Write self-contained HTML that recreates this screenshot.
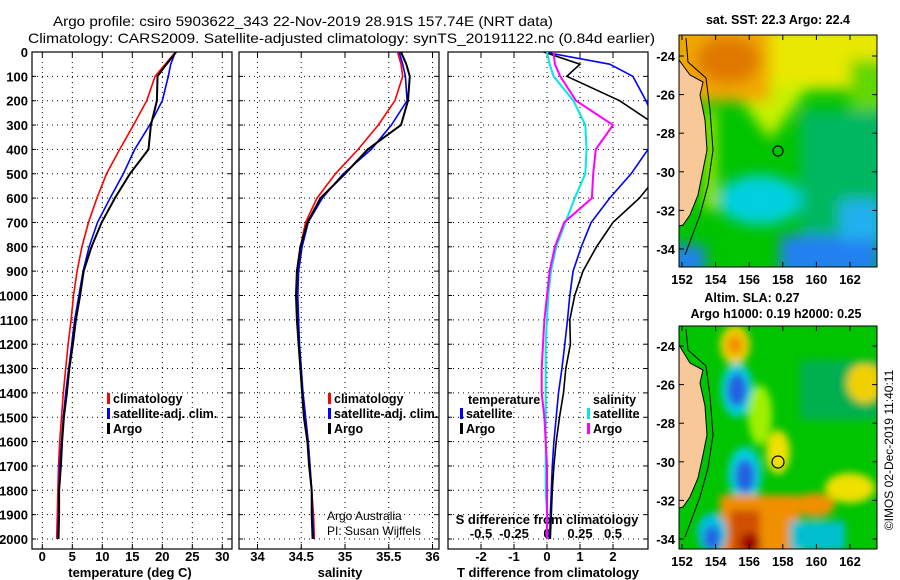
<!DOCTYPE html>
<html><head><meta charset="utf-8"><style>
body{margin:0;background:#fff}
svg{display:block;font-family:"Liberation Sans",sans-serif}
.b{font-weight:bold;font-size:13px}
.l{font-weight:bold;font-size:12.5px}
</style></head><body>
<svg id="s" width="900" height="580" viewBox="0 0 900 580">
<defs>
<filter id="bl" x="-20%" y="-20%" width="140%" height="140%"><feGaussianBlur stdDeviation="7"/></filter>
<filter id="bl2" x="-20%" y="-20%" width="140%" height="140%"><feGaussianBlur stdDeviation="4"/></filter>
<clipPath id="c1"><rect x="32" y="52" width="200" height="497"/></clipPath>
<clipPath id="c2"><rect x="239" y="52" width="200" height="497"/></clipPath>
<clipPath id="c3"><rect x="448" y="52" width="200" height="497"/></clipPath>
<clipPath id="m1"><rect x="679" y="35" width="198" height="232"/></clipPath>
<clipPath id="m2"><rect x="679" y="326" width="198" height="223"/></clipPath>
</defs>
<text x="53" y="26" font-size="14" textLength="500" lengthAdjust="spacingAndGlyphs">Argo profile: csiro 5903622_343 22-Nov-2019 28.91S 157.74E (NRT data)</text>
<text x="28" y="43" font-size="14" textLength="627" lengthAdjust="spacingAndGlyphs">Climatology: CARS2009. Satellite-adjusted climatology: synTS_20191122.nc (0.84d earlier)</text>
<g id="p1"></g>
<g id="p2"></g>
<g id="p3"></g>

<!-- SST map -->
<g>
<text x="778" y="24" text-anchor="middle" class="l">sat. SST: 22.3 Argo: 22.4</text>
<g clip-path="url(#m1)">
<rect x="679" y="35" width="198" height="232" fill="#00c400"/>
<g filter="url(#bl)">
<rect x="800" y="110" width="90" height="130" fill="#00b860"/>
<rect x="740" y="25" width="150" height="65" fill="#e8e800"/>
<rect x="850" y="60" width="40" height="50" fill="#60d800"/>
<path d="M730 85 L810 85 L770 140 Z" fill="#c8f000"/>
<rect x="670" y="20" width="100" height="82" fill="#f0a800"/>
<ellipse cx="728" cy="60" rx="32" ry="24" fill="#e07800"/>
<ellipse cx="760" cy="200" rx="42" ry="25" fill="#00d0e0"/>
<rect x="780" y="235" width="100" height="40" fill="#2080f0"/>
<rect x="840" y="200" width="40" height="40" fill="#20b0f0"/>
<rect x="670" y="245" width="35" height="30" fill="#2080f0"/>
<rect x="705" y="110" width="10" height="100" fill="#d0f000"/>
</g>
</g>
<path d="M679 60 L690 75 L703 82 L700 95 L705 120 L707 150 L703 170 L698 195 L690 215 L683 225 L679 226 Z" fill="#f8c898" stroke="#000" stroke-width="1"/>
<path d="M686 38 L688 62 L706 78 L710 110 L713 150 L708 185 L700 215 L685 255" fill="none" stroke="#000" stroke-width="1"/>
<circle cx="778" cy="151" r="5" fill="none" stroke="#000" stroke-width="1.2"/>
<rect x="679" y="35" width="198" height="232" fill="none" stroke="#000" stroke-width="1"/>
</g>

<!-- SLA map -->
<g>
<text x="752" y="302" text-anchor="middle" class="l">Altim. SLA: 0.27</text>
<text x="776" y="318" text-anchor="middle" class="l">Argo h1000: 0.19 h2000: 0.25</text>
<g clip-path="url(#m2)">
<rect x="679" y="326" width="198" height="223" fill="#00c400"/>
<g filter="url(#bl2)">
<rect x="800" y="360" width="80" height="60" fill="#00b050"/>
<ellipse cx="735" cy="345" rx="15" ry="20" fill="#f0d000"/>
<ellipse cx="735" cy="345" rx="8" ry="10" fill="#f09000"/>
<ellipse cx="737" cy="390" rx="16" ry="27" fill="#00d0e0"/>
<ellipse cx="737" cy="390" rx="10" ry="17" fill="#2060e0"/>
<ellipse cx="745" cy="474" rx="17" ry="27" fill="#00d0e0"/>
<ellipse cx="745" cy="476" rx="10" ry="17" fill="#2060e0"/>
<ellipse cx="778" cy="452" rx="12" ry="22" fill="#f0e000"/>
<rect x="720" y="495" width="80" height="60" fill="#f09000"/>
<rect x="730" y="510" width="30" height="45" fill="#d05000"/>
<ellipse cx="750" cy="543" rx="10" ry="10" fill="#a00000"/>
<ellipse cx="712" cy="533" rx="15" ry="20" fill="#00c0e0"/>
<ellipse cx="712" cy="538" rx="8" ry="12" fill="#2060e0"/>
<rect x="790" y="521" width="55" height="30" fill="#00c0d0"/>
<ellipse cx="815" cy="505" rx="20" ry="12" fill="#f09000"/>
<ellipse cx="850" cy="488" rx="25" ry="15" fill="#f0e000"/>
<ellipse cx="865" cy="383" rx="18" ry="20" fill="#f0d000"/>
<ellipse cx="760" cy="415" rx="12" ry="30" fill="#a0f000"/>
</g>
</g>
<path d="M679 345 L690 363 L703 370 L700 383 L705 406 L707 435 L703 455 L698 478 L690 497 L683 507 L679 508 Z" fill="#f8c898" stroke="#000" stroke-width="1"/>
<path d="M686 329 L688 350 L706 366 L710 396 L713 435 L708 468 L700 497 L685 537" fill="none" stroke="#000" stroke-width="1"/>
<circle cx="778" cy="462" r="6" fill="none" stroke="#000" stroke-width="1.2"/>
<rect x="679" y="326" width="198" height="223" fill="none" stroke="#000" stroke-width="1"/>
</g>
<text transform="translate(893,450) rotate(-90)" text-anchor="middle" font-size="12">©IMOS 02-Dec-2019 11:40:11</text>
</svg>
<script>
// depth levels (m)
var depth=[0,50,100,200,300,400,500,600,700,800,900,1000,1100,1200,1300,1400,1500,1600,1700,1800,1900,2000];
var tClim=[22.2,20.5,18.8,17.4,15.2,12.9,10.7,9.1,7.7,6.6,5.8,5.2,4.8,4.3,3.9,3.5,3.2,2.9,2.7,2.6,2.5,2.4];
var tSat=[22.2,21.4,21.0,20.0,17.9,15.4,13.5,11.3,9.2,7.8,6.8,6.1,5.4,4.9,4.4,3.9,3.5,3.2,2.9,2.8,2.7,2.6];
var tArgo=[22.3,20.7,19.2,19.1,18.1,17.7,14.6,12.1,9.9,8.2,6.9,6.3,5.6,5.1,4.5,4.1,3.6,3.3,3.1,2.8,2.8,2.7];
var sClim=[35.60,35.64,35.66,35.57,35.38,35.15,34.89,34.68,34.55,34.49,34.45,34.45,34.46,34.47,34.49,34.52,34.55,34.58,34.60,34.62,34.64,34.65];
var sSat=[35.62,35.66,35.69,35.71,35.53,35.30,34.98,34.74,34.58,34.51,34.47,34.46,34.47,34.48,34.50,34.52,34.55,34.58,34.60,34.62,34.63,34.64];
var sArgo=[35.64,35.70,35.74,35.72,35.64,35.26,35.00,34.72,34.57,34.49,34.45,34.44,34.45,34.47,34.49,34.51,34.53,34.57,34.59,34.62,34.62,34.63];
var dTSat=[-0.1,1.9,2.6,3.0,3.3,3.06,2.55,1.9,1.34,1.04,0.79,0.69,0.62,0.54,0.45,0.35,0.28,0.21,0.16,0.13,0.1,0.08];
var dTArgo=[-0.1,1.0,0.6,2.2,3.3,4.5,3.4,2.8,2.0,1.5,1.09,0.84,0.69,0.71,0.57,0.5,0.38,0.28,0.21,0.16,0.13,0.1];
var dSSat=[0,0.02,0.05,0.2,0.29,0.30,0.29,0.21,0.14,0.07,0.03,0.01,0,-0.01,-0.01,-0.01,-0.01,-0.01,-0.01,-0.01,0,0];
var dSArgo=[0.05,0.06,0.1,0.22,0.5,0.37,0.35,0.34,0.13,0.06,0.02,0,-0.02,-0.03,-0.04,-0.04,-0.02,-0.01,0,0,0,0];
var depthTicks=[0,100,200,300,400,500,600,700,800,900,1000,1100,1200,1300,1400,1500,1600,1700,1800,1900,2000];
var tTicks=[0,5,10,15,20,25,30];
var sTicks=[34,34.5,35,35.5,36];
var dtTicks=[-2,-1,0,1,2];
var dsTicks=[-0.5,-0.25,0,0.25,0.5];
var dsTickLabels=['-0.5','-0.25','0','0.25','0.5'];

var NS='http://www.w3.org/2000/svg';
function el(p,t,a){var e=document.createElementNS(NS,t);for(var k in a)e.setAttribute(k,a[k]);p.appendChild(e);return e;}
function yD(d){return 52+d*0.2435;}
function xT(v){return 42.3+v*6;}
function xS(v){return 257.5+(v-34)*87.5;}
function xDT(v){return 547+v*33;}
function xDS(v){return 547+v*132;}
var TOP=52,BOT=549;

function frame(g,x0,x1,xt,xf,labels){
  depthTicks.forEach(function(d){
    var y=yD(d);
    var l=el(g,'line',{x1:x0,x2:x1,y1:y,y2:y,stroke:'#000','stroke-width':1,'stroke-dasharray':'1,4'});
    
    
    el(g,'line',{x1:x0,x2:x0+4,y1:y,y2:y,stroke:'#000'});
    el(g,'line',{x1:x1-4,x2:x1,y1:y,y2:y,stroke:'#000'});
  });
  xt.forEach(function(v,i){
    var x=xf(v);
    var l=el(g,'line',{x1:x,x2:x,y1:TOP,y2:BOT,stroke:'#000','stroke-width':1,'stroke-dasharray':'1,4'});
    
    
    el(g,'line',{x1:x,x2:x,y1:TOP,y2:TOP+5,stroke:'#000'});
    el(g,'line',{x1:x,x2:x,y1:BOT-5,y2:BOT,stroke:'#000'});
    var t=el(g,'text',{x:x,y:561,'text-anchor':'middle','class':'b'});
    t.textContent=labels?labels[i]:String(v);
    
    
  });
  var r=el(g,'rect',{x:x0,y:TOP,width:x1-x0,height:BOT-TOP,fill:'none',stroke:'#000','stroke-width':1.2});
  
  
}
function line(g,vals,xf,col,clip,name,w){
  var pts=vals.map(function(v,i){return xf(v).toFixed(1)+','+yD(depth[i]).toFixed(1);}).join(' ');
  var p=el(g,'polyline',{points:pts,fill:'none',stroke:col,'stroke-width':w||1.6,'clip-path':'url(#'+clip+')'});
  
  
}
function legend(g,x,y,items){
  items.forEach(function(it,i){
    el(g,'rect',{x:x,y:y+i*15-10,width:3,height:11,fill:it[1]});
    var t=el(g,'text',{x:x+6,y:y+i*15,'class':'l'});
    t.textContent=it[0];
    
    
  });
}
var g1=document.getElementById('p1');
frame(g1,32,232,tTicks,xT);
depthTicks.forEach(function(d){
  var t=el(g1,'text',{x:28,y:yD(d)+5,'text-anchor':'end','class':'b'});
  t.textContent=String(d);
  
  
});
line(g1,tClim,xT,'#ff0000','c1','temp-climatology-line');
line(g1,tSat,xT,'#0000ff','c1','temp-satellite-line');
line(g1,tArgo,xT,'#000','c1','temp-argo-line',2);
legend(g1,107,403,[['climatology','#f00'],['satellite-adj. clim.','#00f'],['Argo','#000']]);
var a=el(g1,'text',{x:130,y:577,'text-anchor':'middle','class':'b'});a.textContent='temperature (deg C)';



var g2=document.getElementById('p2');
frame(g2,239,439,sTicks,xS);
line(g2,sClim,xS,'#ff0000','c2','sal-climatology-line');
line(g2,sSat,xS,'#0000ff','c2','sal-satellite-line');
line(g2,sArgo,xS,'#000','c2','sal-argo-line',2);
legend(g2,328,403,[['climatology','#f00'],['satellite-adj. clim.','#00f'],['Argo','#000']]);
var t=el(g2,'text',{x:327,y:520,'font-size':12});t.textContent='Argo Australia';
var t2=el(g2,'text',{x:327,y:535,'font-size':12});t2.textContent='PI: Susan Wijffels';


var a2=el(g2,'text',{x:340,y:577,'text-anchor':'middle','class':'b'});a2.textContent='salinity';



var g3=document.getElementById('p3');
frame(g3,448,648,dtTicks,xDT);
dsTicks.forEach(function(v,i){
  var t=el(g3,'text',{x:xDS(v),y:538,'text-anchor':'middle','class':'b'});
  t.textContent=dsTickLabels[i];
  
  
});
var sl=el(g3,'text',{x:547,y:524,'text-anchor':'middle','class':'b'});sl.textContent='S difference from climatology';


line(g3,dTSat,xDT,'#0000ff','c3','tdiff-satellite-line');
line(g3,dTArgo,xDT,'#000','c3','tdiff-argo-line');
line(g3,dSSat,xDS,'#00e8e8','c3','sdiff-satellite-line',2);
line(g3,dSArgo,xDS,'#ff00ff','c3','sdiff-argo-line',2);
var th=el(g3,'text',{x:468,y:404,'class':'l'});th.textContent='temperature';

var sh=el(g3,'text',{x:593,y:404,'class':'l'});sh.textContent='salinity';

legend(g3,460,418,[['satellite','#00f'],['Argo','#000']]);
legend(g3,587,418,[['satellite','#00e8e8'],['Argo','#f0f']]);
var a3=el(g3,'text',{x:548,y:577,'text-anchor':'middle','class':'b'});a3.textContent='T difference from climatology';



// map axes
function mapAxes(top,bottom,yLat){
  var s=document.getElementById('s');
  [-24,-26,-28,-30,-32,-34].forEach(function(lat){
    var y=yLat(lat);
    el(s,'line',{x1:679,x2:684,y1:y,y2:y,stroke:'#000'});
    el(s,'line',{x1:872,x2:877,y1:y,y2:y,stroke:'#000'});
    var t=el(s,'text',{x:675,y:y+5,'text-anchor':'end','class':'b'});t.textContent=String(lat);
    
    
  });
  [152,154,156,158,160,162].forEach(function(lon){
    var x=682+(lon-152)*16.8;
    el(s,'line',{x1:x,x2:x,y1:top,y2:top+5,stroke:'#000'});
    el(s,'line',{x1:x,x2:x,y1:bottom-5,y2:bottom,stroke:'#000'});
    var t=el(s,'text',{x:x,y:bottom+17,'text-anchor':'middle','class':'b'});t.textContent=String(lon);
    
    
  });
}
mapAxes(35,267,function(l){return 56+(-24-l)*19.3;});
mapAxes(326,549,function(l){return 346+(-24-l)*19.3;});
</script>
</body></html>
